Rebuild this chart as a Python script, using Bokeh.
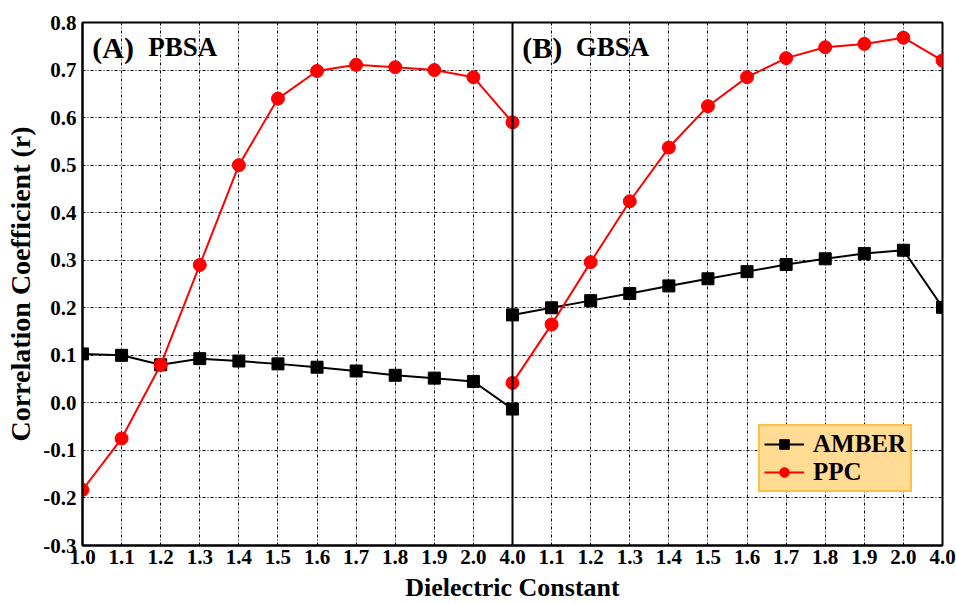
from bokeh.plotting import figure
from bokeh.models import (FixedTicker, NumeralTickFormatter, Range1d, Span, Label,
                          Legend, LegendItem)
from bokeh.embed import file_html
from bokeh.resources import INLINE

# ---- data ----
x_labels = ["1.0", "1.1", "1.2", "1.3", "1.4", "1.5", "1.6", "1.7", "1.8", "1.9", "2.0", "4.0",
            "1.1", "1.2", "1.3", "1.4", "1.5", "1.6", "1.7", "1.8", "1.9", "2.0", "4.0"]
pbsa_amber = [0.103, 0.100, 0.080, 0.093, 0.088, 0.082, 0.075, 0.067, 0.058, 0.052, 0.045, -0.013]
pbsa_ppc = [-0.183, -0.075, 0.080, 0.290, 0.500, 0.640, 0.698, 0.711, 0.706, 0.700, 0.685, 0.590]
gbsa_amber = [0.185, 0.200, 0.215, 0.230, 0.246, 0.261, 0.276, 0.291, 0.303, 0.314, 0.321, 0.201]
gbsa_ppc = [0.042, 0.165, 0.296, 0.424, 0.537, 0.624, 0.685, 0.725, 0.748, 0.755, 0.768, 0.720]
y_ticks = [-0.3, -0.2, -0.1, 0.0, 0.1, 0.2, 0.3, 0.4, 0.5, 0.6, 0.7, 0.8]

xl = list(range(len(pbsa_amber)))
xr = list(range(len(pbsa_amber) - 1, len(pbsa_amber) - 1 + len(gbsa_amber)))

FONT = "Liberation Serif"

p = figure(width=956, height=604, output_backend="svg", toolbar_location=None,
           x_range=Range1d(0, len(x_labels) - 1), y_range=Range1d(-0.3, 0.8),
           min_border_left=82, min_border_right=14, min_border_top=22, min_border_bottom=57)

p.outline_line_color = "black"
p.outline_line_width = 2
p.background_fill_color = "white"

# axes
p.xaxis.ticker = FixedTicker(ticks=list(range(len(x_labels))))
p.xaxis.major_label_overrides = {i: s for i, s in enumerate(x_labels)}
p.yaxis.ticker = FixedTicker(ticks=y_ticks)
p.yaxis.formatter = NumeralTickFormatter(format="0.0")
for ax in (p.xaxis[0], p.yaxis[0]):
    ax.major_tick_in = 0
    ax.major_tick_out = 0
    ax.minor_tick_in = 0
    ax.minor_tick_out = 0
    ax.axis_line_color = "black"
    ax.axis_line_width = 2
    ax.major_label_text_font = FONT
    ax.major_label_text_font_style = "bold"
    ax.major_label_text_font_size = "21px"
    ax.major_label_text_color = "black"
    ax.axis_label_text_font = FONT
    ax.axis_label_text_font_style = "bold"
    ax.axis_label_text_color = "black"
p.xaxis.axis_label = "Dielectric Constant"
p.yaxis.axis_label = "Correlation Coefficient (r)"
p.xaxis.axis_label_text_font_size = "26px"
p.yaxis.axis_label_text_font_size = "28px"
p.xaxis.major_label_standoff = 4
p.xaxis.axis_label_standoff = 6
p.yaxis.major_label_standoff = 6
p.yaxis.axis_label_standoff = 4

# grid
for g in (p.xgrid[0], p.ygrid[0]):
    g.grid_line_color = "black"
    g.grid_line_width = 1
    g.grid_line_dash = "3 2 1 2"
    g.grid_line_alpha = 1.0

# divider
p.add_layout(Span(location=len(pbsa_amber) - 1, dimension="height",
                  line_color="black", line_width=2))

# series
la = p.line(xl, pbsa_amber, line_color="black", line_width=2)
lam = p.scatter(xl, pbsa_amber, marker="square", size=12, color="black")
ra = p.line(xr, gbsa_amber, line_color="black", line_width=2)
ram = p.scatter(xr, gbsa_amber, marker="square", size=12, color="black")
lp = p.line(xl, pbsa_ppc, line_color="red", line_width=2)
lpm = p.scatter(xl, pbsa_ppc, marker="circle", size=13, color="red")
rp = p.line(xr, gbsa_ppc, line_color="red", line_width=2)
rpm = p.scatter(xr, gbsa_ppc, marker="circle", size=13, color="red")

# panel labels
lab_kw = dict(text_font=FONT, text_font_style="bold", text_baseline="middle", text_color="black")
p.add_layout(Label(x=0.25, y=0.748, text="(A)", text_font_size="30px", **lab_kw))
p.add_layout(Label(x=1.68, y=0.748, text="PBSA", text_font_size="27px", **lab_kw))
p.add_layout(Label(x=11.25, y=0.748, text="(B)", text_font_size="30px", **lab_kw))
p.add_layout(Label(x=12.62, y=0.748, text="GBSA", text_font_size="27px", **lab_kw))

legend = Legend(items=[LegendItem(label="AMBER", renderers=[la, lam]),
                       LegendItem(label="PPC", renderers=[lp, lpm])],
                location=(676, 53))
legend.label_text_font = FONT
legend.label_text_font_style = "bold"
legend.label_text_font_size = "25px"
legend.label_text_line_height = 1.0
legend.label_text_color = "black"
legend.background_fill_color = "#FFDB94"
legend.background_fill_alpha = 1.0
legend.border_line_color = "#FFA500"
legend.border_line_width = 2
legend.glyph_width = 40
legend.glyph_height = 24
legend.label_height = 24
legend.spacing = 0
legend.padding = 4
legend.margin = 0
legend.label_standoff = 9
p.add_layout(legend)

open("out.html", "w").write(file_html(p, INLINE))
